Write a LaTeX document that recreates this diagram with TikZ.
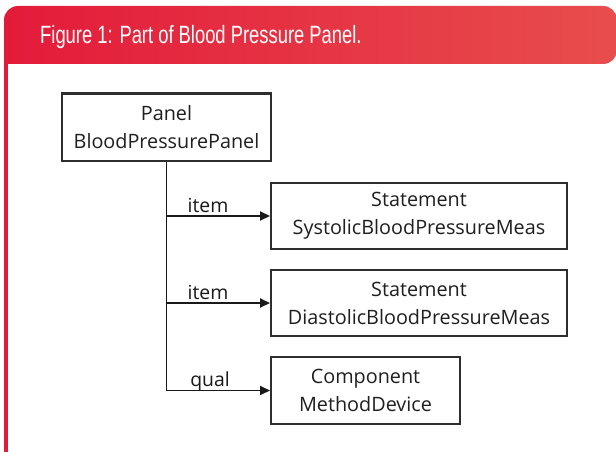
\documentclass[tikz,border=0pt]{standalone}
\usepackage{fontspec}
\setmainfont{Open Sans}
\newfontfamily\titlefont{Liberation Sans}
\usetikzlibrary{arrows.meta}
\definecolor{hdrL}{HTML}{E31B3A}
\definecolor{hdrR}{HTML}{E84D4D}
\definecolor{edge}{HTML}{2E2E2E}
\tikzset{
  box/.style={draw=edge, line width=2pt, rectangle, align=center, inner sep=0pt,
    font=\fontsize{19.8}{28}\selectfont, text=black!88},
  conn/.style={draw=black!90, line width=1.8pt, -{Triangle[length=10pt,width=9pt]}},
  lbl/.style={font=\fontsize{19.4}{22}\selectfont, text=black!90, anchor=base, inner sep=0pt}
}
\begin{document}
\begin{tikzpicture}[x=1pt,y=1pt]
\useasboundingbox (0,0) rectangle (616,-452);
\fill[white] (0,0) rectangle (616,-452);
% header
\shade[left color=hdrL, right color=hdrR, rounded corners=14pt]
  (4,-64) -- (4,-6) -- (617,-6) -- (617,-64) [sharp corners] -- cycle;
\fill[hdrL] (3.5,-64) rectangle (7.5,-452);
\node[anchor=base west, inner sep=0pt, text=white] (title) at (40,-44)
  {\scalebox{0.735}[1]{\titlefont\fontsize{25}{28}\selectfont Figure 1: Part of Blood Pressure Panel.}};
% boxes
\node[box, minimum width=209pt, minimum height=67pt] (panel) at (166.5,-127)
  {Panel\\BloodPressurePanel};
\node[box, minimum width=296pt, minimum height=66pt] (sys) at (419,-216)
  {Statement\\SystolicBloodPressureMeas};
\node[box, minimum width=296pt, minimum height=66pt] (dia) at (419,-303)
  {Statement\\DiastolicBloodPressureMeas};
\node[box, minimum width=189pt, minimum height=67pt] (comp) at (365.5,-390.5)
  {Component\\MethodDevice};
% connectors
\draw[conn] (panel.south) |- (comp.west);
\draw[conn] (panel.south |- sys.west) -- (sys.west);
\draw[conn] (panel.south |- dia.west) -- (dia.west);
% labels
\node[lbl] (l1) at (208,-212) {item};
\node[lbl] (l2) at (208,-299) {item};
\node[lbl] (l3) at (210,-386) {qual};
\end{tikzpicture}
\end{document}
